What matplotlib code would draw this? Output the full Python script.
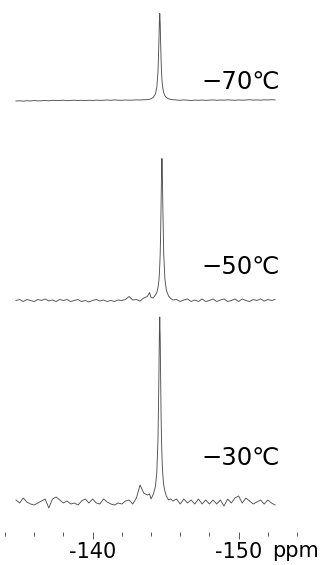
import matplotlib
matplotlib.use("Agg")
import matplotlib.pyplot as plt

# ---------------- data ----------------
labels = ["\u221270\u2103", "\u221250\u2103", "\u221230\u2103"]

ppm = [-134.75, -135.0, -135.25, -135.5, -135.75, -136.0, -136.25, -136.5,
       -136.75, -137.0, -137.25, -137.5, -137.75, -138.0, -138.25, -138.5,
       -138.75, -139.0, -139.25, -139.5, -139.75, -140.0, -140.25, -140.5,
       -140.75, -141.0, -141.25, -141.5, -141.75, -142.0, -142.25, -142.5,
       -142.75, -143.0, -143.25, -143.5, -143.75, -143.9, -144.0, -144.15,
       -144.3,
       -144.4, -144.48, -144.54, -144.57, -144.6, -144.63, -144.66, -144.69,
       -144.72, -144.75, -144.78, -144.81, -144.87, -144.95,
       -145.05, -145.2, -145.35, -145.5, -145.75, -146.0, -146.25, -146.5,
       -146.75, -147.0, -147.25, -147.5, -147.75, -148.0, -148.25, -148.5,
       -148.75, -149.0, -149.25, -149.5, -149.75, -150.0, -150.25, -150.5,
       -150.75, -151.0, -151.25, -151.5, -151.75, -152.0, -152.25, -152.5]

int_m70 = [-0.5, -0.3, -0.6, -0.2, -0.5, 0, -0.4, -0.2, 0, -0.3, 0.2, -0.1,
           0, 0.3, -0.2, 0.1, 0.3, 0, 0.2, -0.1, 0.3, 0, 0.4, 0.1, 0.3, 0.5,
           0.2, 0.6, 0.3, 0.2, 0.5, 0.3, 0.4, 0.6, 0.5, 0.7, 0.9, 1.3, 1.7,
           3, 6.4,
           13.3, 29, 58, 77, 87, 77, 58, 41, 29, 21, 16, 12.3, 7.8, 4.8,
           3, 1.7, 1.1, 0.8, 0.5, 0.2, 0.6, 0.3, 0, 0.4, 0.2, 0.5, 0.1, 0.4,
           0.6, 0.2, 0.5, 0.3, 0.7, 0.4, 0.2, 0.6, 0.3, 0.5, 0.8, 0.4, 0.6,
           0.3, 0.7, 0.5, 0.8, 0.6]

int_m50 = [0, 1, -1, 1, 0, -1, 1, 0, 1.5, -0.5, 0.5, -1, 1, 0, 1, -1, 0, 1,
           -1, 0, -1.5, 0, 1, -0.5, 0.5, -1, 0, -1, 0.5, 0, 1, 4, 0.5, 1,
           -0.5, 2.5, 4, 8, 3, 2.5, 5.5,
           8, 13, 20, 26, 35, 47, 67, 95, 126, 142, 126, 95, 47, 22,
           10.5, 4.5, 2, 0.5, 1, -1, 0.5, 1.5, -1, 0.5, -1, 1.5, -1, 0, 1.5,
           -1, 0.5, 1.5, -1, 0, 1.5, -1, 1.5, 0, -1, 1, 0, 1.5, -0.5, 1, 0, 1]

int_m30 = [2, -1, 4, 0, -2, -3, -1, 1, 3, -6, 3, 5, 2, -1, 1, -2, -1, -3, 1,
           3, -1, 3, -1, -2, 3, 0, -2, -3, -1, -2, 1, 2, -2, 4, 17, 9, 7, 8, 3,
           7.5, 15,
           30, 63, 124, 165, 185, 165, 124, 88, 63, 46, 35, 27, 17, 11,
           6, 2, 3, 1, 3, -2, 3, -1, 2, -2, 3, -2, 2, -2, 2, -2, 2, -4, 3, -1,
           4, 6, -1, 4, 1, -2, 0, 2, -2, 2, -1, -3]

spectra = [int_m70, int_m50, int_m30]

major_ticks = [-140, -150]
major_labels = ["-140", "-150"]
minor_ticks = [-134, -136, -138, -142, -144, -146, -148, -152, -154]

# ---------------- layout / style ----------------
W, H = 321, 565
AX_BOTTOM_PX = 531.7
baselines_px = [100.5, 300.5, 502.0]
label_baseline_px = [89.3, 274.0, 465.0]
label_x_ppm = -150.13

fig = plt.figure(figsize=(W / 100, H / 100), dpi=100)
ax = fig.add_axes([0, (H - AX_BOTTOM_PX) / H, 1, AX_BOTTOM_PX / H])
ax.set_xlim(-133.658, -155.644)
ax.set_ylim(0, AX_BOTTOM_PX)

for ys, b in zip(spectra, baselines_px):
    off = AX_BOTTOM_PX - b
    ax.plot(ppm, [v + off for v in ys], color="#505050", lw=0.65,
            solid_joinstyle="round")

for lab, yb in zip(labels, label_baseline_px):
    ax.text(label_x_ppm, AX_BOTTOM_PX - yb, lab, ha="center", va="baseline",
            fontsize=17.5, color="#000000",
            family=["DejaVu Sans", "Noto Sans CJK JP"])

for s in ax.spines.values():
    s.set_visible(False)
ax.set_yticks([])
ax.set_xticks(major_ticks)
ax.set_xticklabels(major_labels)
ax.set_xticks(minor_ticks, minor=True)
ax.tick_params(axis="x", which="major", direction="out", length=5.3,
               width=0.7, color="#555555", pad=2.3, labelsize=15,
               labelcolor="#000000")
ax.tick_params(axis="x", which="minor", direction="out", length=3.1,
               width=0.7, color="#555555")
ax.patch.set_visible(False)

fig.text(272 / W, (H - 557.3) / H, "ppm", ha="left", va="baseline",
         fontsize=15, color="#000000")

fig.savefig("out.png", dpi=100)
